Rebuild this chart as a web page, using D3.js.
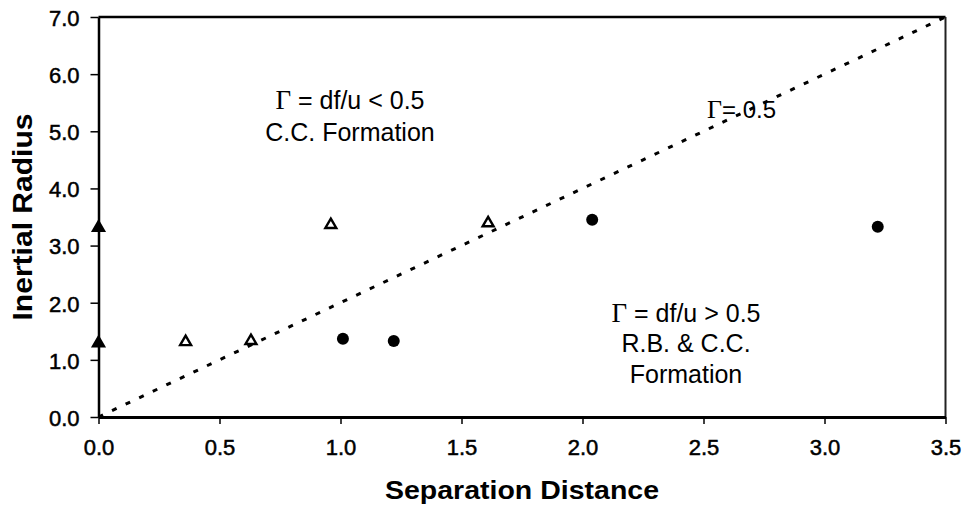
<!DOCTYPE html>
<html>
<head>
<meta charset="utf-8">
<script src="https://cdn.jsdelivr.net/npm/d3@7"></script>
<style>
  body { margin: 0; background: #fff; }
  text { font-family: "Liberation Sans", Arial, sans-serif; fill: #000; }
  .serif { font-family: "Liberation Serif", "Times New Roman", serif; }
</style>
</head>
<body>
<div id="chart"></div>
<script>
const w = 972,
    h = 511;

// open triangles (C.C. formation)
const triX = [0.0, 0.0, 0.36, 0.63, 0.96, 1.61];
const triY = [3.33, 1.31, 1.33, 1.35, 3.38, 3.41];

// filled circles (R.B. & C.C. formation)
const dotX = [1.01, 1.22, 2.04, 3.22];
const dotY = [1.37, 1.33, 3.45, 3.33];

// critical line Γ = 0.5
const lineX = [0, 3.5];
const lineY = [0, 7];

const xTicks = [0, 0.5, 1, 1.5, 2, 2.5, 3, 3.5];
const yTicks = [0, 1, 2, 3, 4, 5, 6, 7];

const svg = d3.select("#chart")
    .append("svg")
    .attr("width", w)
    .attr("height", h);

const xScale = d3.scaleLinear().domain([0, 3.5]).range([98.5, 945.5]);
const yScale = d3.scaleLinear().domain([0, 7]).range([417, 17]);

// frame: top and right
svg.append("line")
    .attr("x1", xScale(0)).attr("x2", xScale(3.5))
    .attr("y1", yScale(7)).attr("y2", yScale(7))
    .attr("stroke", "#000").attr("stroke-width", 2.5);
svg.append("line")
    .attr("x1", xScale(3.5)).attr("x2", xScale(3.5))
    .attr("y1", yScale(7)).attr("y2", yScale(0))
    .attr("stroke", "#222").attr("stroke-width", 2);

// axes
const xAxis = svg.append("g")
    .attr("transform", "translate(0," + yScale(0) + ")")
    .call(d3.axisBottom(xScale).tickValues(xTicks).tickFormat(d3.format(".1f"))
        .tickSize(7).tickSizeOuter(0).tickPadding(15));
const yAxis = svg.append("g")
    .attr("transform", "translate(" + xScale(0) + ",0)")
    .call(d3.axisLeft(yScale).tickValues(yTicks).tickFormat(d3.format(".1f"))
        .tickSize(8).tickSizeOuter(0).tickPadding(11));

xAxis.select(".domain").attr("stroke-width", 3);
yAxis.select(".domain").attr("stroke-width", 2.5);
svg.selectAll(".tick line").attr("stroke-width", 1.5);
svg.selectAll(".tick text")
    .style("font-family", "'Liberation Sans', Arial, sans-serif")
    .style("font-size", "22px")
    .style("stroke", "#000")
    .style("stroke-width", "0.5px");
yAxis.selectAll(".tick text").attr("dy", "0.38em");

// dotted line
const line = d3.line()
    .x(function (d) { return xScale(d[0]); })
    .y(function (d) { return yScale(d[1]); });
svg.append("path")
    .datum(d3.zip(lineX, lineY))
    .attr("d", line)
    .attr("fill", "none")
    .attr("stroke", "#000")
    .attr("stroke-width", 3)
    .attr("stroke-dasharray", "5,10");

// triangles
const tri = d3.symbol().type(d3.symbolTriangle).size(52);
svg.selectAll(".tri")
    .data(d3.zip(triX, triY))
    .enter()
    .append("path")
    .attr("class", "tri")
    .attr("d", tri)
    .attr("transform", function (d) { return "translate(" + xScale(d[0]) + "," + (yScale(d[1]) + 1) + ")"; })
    .attr("fill", function (d) { return d[0] === 0 ? "#000" : "#fff"; })
    .attr("stroke", "#000")
    .attr("stroke-width", 2.4)
    .attr("stroke-linejoin", "miter");

// circles
svg.selectAll(".dot")
    .data(d3.zip(dotX, dotY))
    .enter()
    .append("circle")
    .attr("class", "dot")
    .attr("cx", function (d) { return xScale(d[0]); })
    .attr("cy", function (d) { return yScale(d[1]); })
    .attr("r", 6)
    .attr("fill", "#000");

// annotations
function gammaText(x, y, rest, size, anchor) {
    const t = svg.append("text")
        .attr("x", x).attr("y", y)
        .attr("text-anchor", anchor)
        .style("font-size", size + "px");
    t.append("tspan").attr("class", "serif").style("font-size", (size + 2) + "px").text("\u0393");
    t.append("tspan").text(rest);
    return t;
}

gammaText(350, 109, " = df/u < 0.5", 25, "middle");
svg.append("text").attr("x", 350).attr("y", 141).attr("text-anchor", "middle")
    .style("font-size", "25px").text("C.C. Formation");

gammaText(686, 322, " = df/u > 0.5", 25, "middle");
svg.append("text").attr("x", 686).attr("y", 352).attr("text-anchor", "middle")
    .style("font-size", "25px").text("R.B. & C.C.");
svg.append("text").attr("x", 686).attr("y", 383).attr("text-anchor", "middle")
    .style("font-size", "25px").text("Formation");

gammaText(707, 118, "= 0.5", 24, "start");

// axis titles
svg.append("text")
    .attr("x", 522).attr("y", 499)
    .attr("text-anchor", "middle")
    .attr("textLength", 274)
    .attr("lengthAdjust", "spacingAndGlyphs")
    .style("font-size", "26px")
    .style("font-weight", "bold")
    .text("Separation Distance");

svg.append("text")
    .attr("transform", "translate(32,217) rotate(-90)")
    .attr("text-anchor", "middle")
    .attr("textLength", 207)
    .attr("lengthAdjust", "spacingAndGlyphs")
    .style("font-size", "27px")
    .style("font-weight", "bold")
    .text("Inertial Radius");
</script>
</body>
</html>
